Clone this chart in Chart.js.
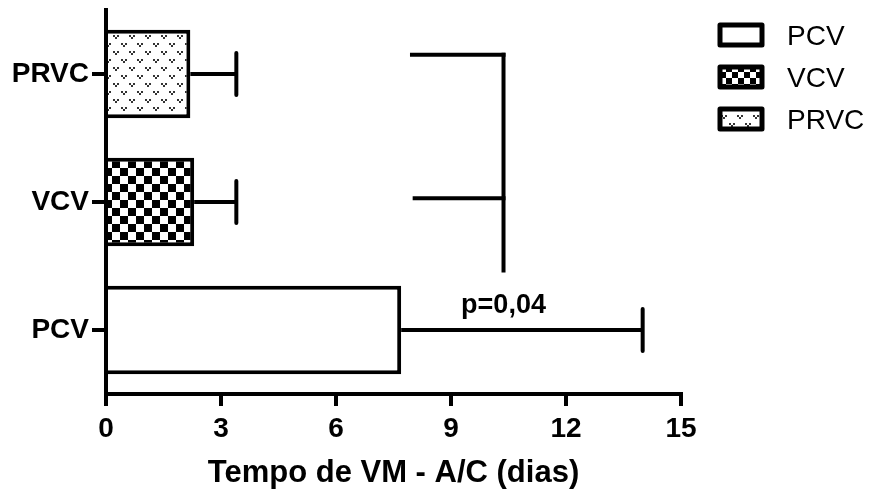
<!DOCTYPE html>
<html>
<head>
<meta charset="utf-8">
<script src="https://cdn.jsdelivr.net/npm/chart.js@4"></script>
<style>
  html, body { margin: 0; padding: 0; background: #fff; }
</style>
</head>
<body>
<canvas id="chart" width="875" height="498"></canvas>
<script>
const categories = ['PRVC', 'VCV', 'PCV'];
const means = [2.2, 2.3, 7.7];
const upperErrors = [3.4, 3.4, 14.0];
const xTicks = [0, 3, 6, 9, 12, 15];
const legendLabels = ['PCV', 'VCV', 'PRVC'];

// significance bracket, x in data units, y in category units
const bracketLeft = [7.93, 8.0];
const bracketLevels = [-0.15, 0.97];
const bracketRight = 10.37;
const bracketBottom = 1.55;
const pLabel = 'p=0,04';
const pLabelAt = [10.37, 1.87];

const FONT = 'Arial, "Liberation Sans", sans-serif';
const canvas = document.getElementById('chart');
const ctx = canvas.getContext('2d');

function checkerPattern(cell) {
    const c = document.createElement('canvas');
    c.width = c.height = cell * 2;
    const g = c.getContext('2d');
    g.fillStyle = '#fff';
    g.fillRect(0, 0, cell * 2, cell * 2);
    g.fillStyle = '#000';
    g.fillRect(0, 0, cell, cell);
    g.fillRect(cell, cell, cell, cell);
    return ctx.createPattern(c, 'repeat');
}

function vPattern() {
    const c = document.createElement('canvas');
    c.width = 16;
    c.height = 16;
    const g = c.getContext('2d');
    g.fillStyle = '#fff';
    g.fillRect(0, 0, 16, 16);
    g.fillStyle = '#333';
    [[4, 3], [12, 11]].forEach(([x, y]) => {
        g.fillRect(x - 3, y, 2, 2);
        g.fillRect(x + 1, y, 2, 2);
        g.fillRect(x - 1, y + 2, 2, 2);
    });
    return ctx.createPattern(c, 'repeat');
}

const fills = [vPattern(), checkerPattern(8), '#fff'];
const legendFills = ['#fff', checkerPattern(6), fills[0]];

const extras = {
    id: 'extras',
    afterDatasetsDraw(chart) {
        const x = chart.scales.x;
        const y = chart.scales.y;
        const c = chart.ctx;
        c.save();
        c.strokeStyle = '#000';
        c.lineWidth = 4;
        c.lineCap = 'butt';

        // error bars
        means.forEach((m, i) => {
            const py = y.getPixelForValue(i);
            const x0 = x.getPixelForValue(m);
            const x1 = x.getPixelForValue(upperErrors[i]);
            c.beginPath();
            c.moveTo(x0, py);
            c.lineTo(x1, py);
            c.stroke();
            c.lineCap = 'round';
            c.beginPath();
            c.moveTo(x1, py - 21);
            c.lineTo(x1, py + 21);
            c.stroke();
            c.lineCap = 'butt';
        });

        // bracket
        const bx = x.getPixelForValue(bracketRight);
        bracketLevels.forEach((lv, i) => {
            const py = y.getPixelForValue(lv);
            c.beginPath();
            c.moveTo(x.getPixelForValue(bracketLeft[i]), py);
            c.lineTo(bx + 2, py);
            c.stroke();
        });
        c.beginPath();
        c.moveTo(bx, y.getPixelForValue(bracketLevels[0]) - 2);
        c.lineTo(bx, y.getPixelForValue(bracketBottom));
        c.stroke();

        c.fillStyle = '#000';
        c.font = 'bold 27px ' + FONT;
        c.textAlign = 'center';
        c.textBaseline = 'alphabetic';
        c.fillText(pLabel, x.getPixelForValue(pLabelAt[0]), y.getPixelForValue(pLabelAt[1]));
        c.restore();
    },
    afterDraw(chart) {
        const c = chart.ctx;
        c.save();
        legendLabels.forEach((label, i) => {
            const cy = 35 + i * 42;
            c.fillStyle = legendFills[i];
            c.strokeStyle = '#000';
            c.lineWidth = 5;
            c.lineJoin = 'round';
            c.fillRect(720, cy - 10, 42, 20);
            c.strokeRect(720, cy - 10, 42, 20);
            c.fillStyle = '#000';
            c.font = '28px ' + FONT;
            c.textAlign = 'left';
            c.textBaseline = 'middle';
            c.fillText(label, 787, cy + 2);
        });
        c.restore();
    }
};

new Chart(ctx, {
    type: 'bar',
    data: {
        labels: categories,
        datasets: [{
            data: means,
            backgroundColor: fills,
            borderColor: '#000',
            borderWidth: 4,
            borderSkipped: 'start',
            barPercentage: 0.69,
            categoryPercentage: 1
        }]
    },
    options: {
        indexAxis: 'y',
        responsive: false,
        animation: false,
        layout: { padding: { top: 10, right: 194, bottom: 0, left: 0 } },
        plugins: {
            legend: { display: false },
            tooltip: { enabled: false }
        },
        scales: {
            x: {
                min: 0,
                max: 15,
                afterBuildTicks: (s) => { s.ticks = xTicks.map(v => ({ value: v })); },
                afterFit: (s) => { s.height = 104; },
                ticks: {
                    color: '#000',
                    padding: 6,
                    font: { family: FONT, size: 28, weight: 'bold' }
                },
                grid: { drawOnChartArea: false, tickLength: 12, lineWidth: 4, color: '#000' },
                border: { width: 4, color: '#000' },
                title: {
                    display: true,
                    text: 'Tempo de VM - A/C (dias)',
                    color: '#000',
                    padding: { top: 0, bottom: 6 },
                    font: { family: FONT, size: 31, weight: 'bold' }
                }
            },
            y: {
                afterFit: (s) => {
                    s.width = 106;
                    s.paddingTop = 0;
                    s.paddingBottom = 0;
                },
                ticks: {
                    color: '#000',
                    padding: 3,
                    font: { family: FONT, size: 28, weight: 'bold' }
                },
                grid: { drawOnChartArea: false, offset: false, tickLength: 14, lineWidth: 4, color: '#000' },
                border: { width: 4, color: '#000' }
            }
        }
    },
    plugins: [extras]
});
</script>
</body>
</html>
